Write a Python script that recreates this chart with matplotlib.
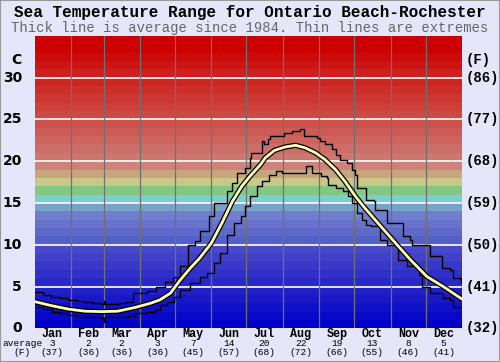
import numpy as np
import matplotlib
matplotlib.use("Agg")
import matplotlib.pyplot as plt
import matplotlib.patheffects as pe
from matplotlib.transforms import blended_transform_factory

# --- data ---
months = ["Jan", "Feb", "Mar", "Apr", "May", "Jun",
          "Jul", "Aug", "Sep", "Oct", "Nov", "Dec"]
month_avg_c = [3, 2, 2, 3, 7, 14, 20, 22, 19, 13, 8, 5]
month_avg_f = [37, 36, 36, 36, 45, 57, 68, 72, 66, 55, 46, 41]
month_start = [0, 31, 59, 90, 120, 151, 181, 212, 243, 273, 304, 334]

avg_day = [0, 15, 29, 43, 58, 71, 86, 99, 107, 116, 124, 133, 141, 151, 160,
           169, 177, 184, 193, 197, 205, 214, 223, 231, 240, 248, 257, 265,
           274, 282, 292, 307, 321, 335, 349, 365]
avg_temp = [3.2, 2.7, 2.3, 2.05, 2.0, 2.05, 2.5, 3.0, 3.4, 4.2, 5.7, 7.2, 8.4,
            10.2, 12.6, 15.2, 17.0, 18.2, 19.6, 20.4, 21.3, 21.7, 21.9, 21.6,
            21.0, 20.2, 19.0, 17.6, 15.8, 14.4, 12.8, 10.4, 8.2, 6.2, 5.0, 3.5]

max_day = [0, 7, 14, 22, 29, 36, 43, 50, 57, 59, 60, 72, 78, 84, 96, 104, 111,
           118, 124, 131, 137, 141, 149, 153, 164, 169, 173, 180, 184, 185, 194,
           196, 199, 201, 213, 220, 227, 230, 241, 244, 248, 254, 257, 261, 267,
           271, 274, 275, 283, 290, 291, 301, 315, 321, 322, 338, 348, 355, 357,
           364, 365]
max_temp = [4.3, 4.0, 3.8, 3.6, 3.4, 3.3, 3.2, 3.0, 2.9, 3.3, 2.9, 3.0, 3.2, 4.2,
            4.5, 5.0, 5.6, 6.2, 7.4, 10.0, 10.4, 11.6, 13.4, 15.0, 16.4, 17.4,
            18.6, 19.2, 20.4, 21.0, 22.4, 22.0, 22.6, 23.0, 23.4, 23.6, 23.8,
            23.0, 22.8, 22.4, 22.0, 21.4, 20.8, 20.2, 19.8, 19.0, 18.4, 16.8,
            15.4, 15.2, 14.2, 12.6, 11.0, 10.6, 10.0, 8.7, 7.2, 7.0, 6.0, 5.6,
            4.2]

min_day = [0, 7, 15, 22, 29, 36, 43, 57, 59, 60, 72, 80, 86, 95, 103, 107, 113,
           119, 124, 133, 141, 147, 153, 158, 164, 170, 176, 180, 184, 190, 194,
           200, 206, 211, 232, 237, 245, 250, 251, 257, 263, 268, 271, 275, 280,
           283, 287, 295, 301, 310, 318, 328, 331, 338, 349, 355, 357, 365]
min_temp = [2.5, 2.3, 2.0, 1.8, 1.6, 1.4, 1.3, 1.2, 0.8, 1.4, 1.4, 1.5, 1.8,
            2.0, 2.2, 2.8, 3.2, 3.8, 4.6, 5.4, 6.2, 6.6, 7.8, 9.0, 11.2, 12.6,
            13.4, 14.6, 15.8, 17.0, 17.6, 18.4, 18.8, 18.6, 19.4, 18.6, 18.2,
            18.0, 17.2, 16.8, 16.4, 15.8, 15.0, 13.8, 13.0, 12.4, 12.2, 10.6,
            10.0, 8.2, 7.4, 6.4, 5.0, 4.2, 3.6, 3.4, 2.6, 2.6]

c_ticks = [0, 5, 10, 15, 20, 25, 30]
f_ticks = ["(32)", "(41)", "(50)", "(59)", "(68)", "(77)", "(86)"]

# --- background band colours, one per degree ---
band_rgb = []
for i in range(35):
    if i < 10:
        c = (8 * i, 8 * i, 200)
    elif i < 16:
        c = [(85, 95, 200), (95, 105, 200), (105, 115, 205), (110, 128, 205),
             (120, 162, 200), (125, 205, 205)][i - 10]
    elif i < 20:
        c = [(130, 200, 130), (200, 200, 135), (200, 165, 125), (205, 130, 122)][i - 16]
    elif i < 30:
        g = 118 - (i - 20) * 9
        c = (205, g, g - 6 if g > 6 else g)
    else:
        c = [(205, 32, 32), (205, 20, 20), (204, 10, 10), (204, 0, 0), (204, 0, 0)][i - 30]
    band_rgb.append(tuple(v / 255 for v in c))

bg = "#e6e6fa"
fig = plt.figure(figsize=(5, 3.62), dpi=100, facecolor=bg)
ax = fig.add_axes([0.069, 0.093, 0.855, 0.808])
ax.set_xlim(0, 365)
ax.set_ylim(0, 35)

for i, col in enumerate(band_rgb):
    ax.axhspan(i, i + 1, color=col, lw=0, zorder=0)
for t in c_ticks[1:]:
    ax.axhline(t, color="#f4f4f4", lw=1.3, zorder=1)
for d in month_start[1:]:
    ax.axvline(d, color="#707070", lw=0.9, zorder=1)

ax.plot(max_day, max_temp, drawstyle="steps-post", color="black", lw=1.0, zorder=3)
ax.plot(min_day, min_temp, drawstyle="steps-post", color="black", lw=1.0, zorder=3)
ax.plot(avg_day, avg_temp, color="#ffffb4", lw=2.0, zorder=4,
        path_effects=[pe.Stroke(linewidth=3.8, foreground="black"), pe.Normal()])

ax.set_xticks([])
ax.set_yticks([])
for s in ax.spines.values():
    s.set_visible(False)

# axis labels
ytr = blended_transform_factory(ax.transAxes, ax.transData)
for t, f in zip(c_ticks, f_ticks):
    ax.text(-0.029, t, str(t), transform=ytr, ha="right", va="center",
            fontsize=10, fontweight="bold", family="DejaVu Sans")
    ax.text(1.009, t, f, transform=ytr, ha="left", va="center",
            fontsize=10, fontweight="bold", family="Liberation Mono")
ax.text(-0.03, 32.1, "C", transform=ytr, ha="right", va="center",
        fontsize=10, fontweight="bold", family="DejaVu Sans")
ax.text(1.009, 32.1, "(F)", transform=ytr, ha="left", va="center",
        fontsize=10, fontweight="bold", family="Liberation Mono")

xtr = blended_transform_factory(ax.transData, fig.transFigure)
for i, m in enumerate(months):
    mid = month_start[i] + 15.2
    ax.text(mid, 1 - 334 / 362, m, transform=xtr, ha="center", va="center",
            fontsize=8.5, fontweight="bold", family="Liberation Mono")
    ax.text(mid, 1 - 343.5 / 362, str(month_avg_c[i]), transform=xtr, ha="center",
            va="center", fontsize=6.8, family="Liberation Mono")
    ax.text(mid, 1 - 352.5 / 362, "(%d)" % month_avg_f[i], transform=xtr,
            ha="center", va="center", fontsize=6.8, family="Liberation Mono")
fig.text(2 / 500, 1 - 343.5 / 362, "average", ha="left", va="center",
         fontsize=6.8, family="Liberation Mono")
fig.text(22 / 500, 1 - 352.5 / 362, "(F)", ha="center", va="center",
         fontsize=6.8, family="Liberation Mono")

fig.text(0.5, 1 - 13 / 362, "Sea Temperature Range for Ontario Beach-Rochester",
         ha="center", va="center", fontsize=11.5, fontweight="bold",
         family="Liberation Mono")
fig.text(0.5, 1 - 28 / 362,
         "Thick line is average since 1984. Thin lines are extremes",
         ha="center", va="center", fontsize=10, color="#666666",
         family="Liberation Mono")

fig.patches.append(plt.Rectangle((0, 0), 1, 1, transform=fig.transFigure,
                                 fill=False, edgecolor="#999999", lw=1.5))

fig.savefig("out.png", dpi=100, facecolor=bg)
